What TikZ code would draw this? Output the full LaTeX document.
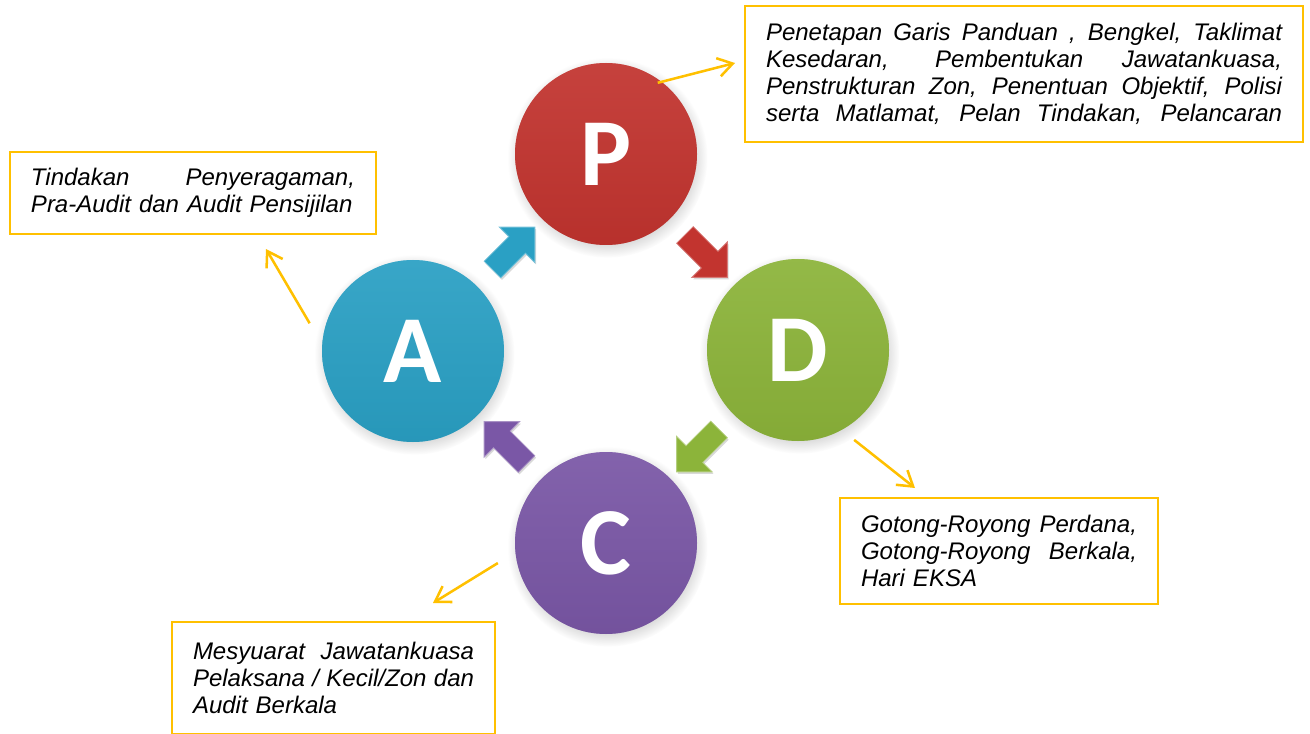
\documentclass[tikz,border=0pt]{standalone}
\usepackage{fontspec}
\setmainfont{Liberation Sans}
\newfontfamily\phasefont{Carlito}
\usetikzlibrary{calc,shapes.arrows,shadows,arrows.meta}

\definecolor{planRed}{RGB}{194,52,47}
\definecolor{doGreen}{RGB}{140,180,58}
\definecolor{checkPurple}{RGB}{122,87,166}
\definecolor{actBlue}{RGB}{42,160,196}
\definecolor{noteYellow}{RGB}{255,192,0}

% a line spread to a given width
\newcommand{\fullline}[2]{\leavevmode\hbox to #1{\spaceskip=0.3em plus 10em\relax #2}}

\tikzset{x=0.75pt, y=0.75pt,
    phaseCircle/.style={circle, fill=#1, minimum size=136.5pt, inner sep=0pt,
        text=white, font=\phasefont\bfseries\fontsize{72}{72}\selectfont,
        circular drop shadow={shadow xshift=1pt, shadow yshift=-2.5pt, opacity=0.3},
        path picture={
            \shade[top color=#1!80!white, bottom color=#1!85!black, opacity=0.35]
                (path picture bounding box.south west) rectangle (path picture bounding box.north east);
            \draw[white, opacity=0.6, line width=2.5pt, line cap=round]
                ([shift={(path picture bounding box.center)}]190:64pt) arc[start angle=190, end angle=250, radius=64pt];
            \draw[white, opacity=0.35, line width=1.5pt, line cap=round]
                ([shift={(path picture bounding box.center)}]55:65pt) arc[start angle=55, end angle=125, radius=65pt];
        }},
    cycleArrow/.style={single arrow, fill=#1, draw=#1!65!white, line width=0.6pt,
        minimum height=45pt, inner xsep=0pt, inner ysep=8.5pt, single arrow head extend=10pt,
        drop shadow={shadow xshift=1pt, shadow yshift=-1.5pt, opacity=0.3}},
    noteBox/.style={draw=noteYellow, line width=1.5pt, text width=#1, align=left,
        inner xsep=15.75pt, inner ysep=0pt,
        font=\itshape\fontsize{18}{20.25}\selectfont},
    leadLine/.style={noteYellow, line width=1.9pt, -{Straight Barb[length=11pt, width=14pt]}},
}

\begin{document}
\begin{tikzpicture}
\useasboundingbox (0,0) rectangle (1310,733);
\clip (0,0) rectangle (1310,733);
% the four phases
\node[phaseCircle=planRed] (P) at (606,579) {P};
\node[phaseCircle=doGreen] (D) at (798,383) {D};
\node[phaseCircle=checkPurple] (C) at (606,190) {C};
\node[phaseCircle=actBlue] (A) at (413,382) {A};
% arrows of the cycle
\node[cycleArrow=actBlue, rotate=45] (aToP) at ($(A)!0.5!(P)$) {};
\node[cycleArrow=planRed, rotate=-45] (pToD) at ($(P)!0.5!(D)$) {};
\node[cycleArrow=doGreen, rotate=-135] (dToC) at ($(D)!0.5!(C)$) {};
\node[cycleArrow=checkPurple, rotate=135] (cToA) at ($(C)!0.5!(A)$) {};
% notes
\node[noteBox=387pt, minimum height=102pt] (pNote) at (1024,659)
    {\fullline{387pt}{Penetapan Garis Panduan , Bengkel, Taklimat}\\
     \fullline{387pt}{Kesedaran, Pembentukan Jawatankuasa,}\\
     \fullline{387pt}{Penstrukturan Zon, Penentuan Objektif, Polisi}\\
     \fullline{387pt}{serta Matlamat, Pelan Tindakan, Pelancaran}};
\node[noteBox=243pt, minimum height=61.5pt] (aNote) at (193,540)
    {\fullline{243pt}{Tindakan Penyeragaman,}\\ Pra-Audit dan Audit Pensijilan};
\node[noteBox=207pt, minimum height=79.5pt] (dNote) at (999,182)
    {\fullline{207pt}{Gotong-Royong Perdana,}\\ \fullline{207pt}{Gotong-Royong Berkala,}\\ Hari EKSA};
\node[noteBox=210.75pt, minimum height=84pt] (cNote) at (333.5,55)
    {\fullline{210.75pt}{Mesyuarat Jawatankuasa}\\ \fullline{210.75pt}{Pelaksana / Kecil/Zon dan}\\ Audit Berkala};
% leads to the notes
\coordinate (pEnd) at (735,670);
\coordinate (aEnd) at (266,484);
\coordinate (dEnd) at (915,245);
\coordinate (cEnd) at (433,130);
\draw[leadLine] ($(P)+(54:88)$) -- (pEnd);
\draw[leadLine] ($(A)+(165:107)$) -- (aEnd);
\draw[leadLine] ($(D)+(-58:106)$) -- (dEnd);
\draw[leadLine] ($(C)+(190.5:110)$) -- (cEnd);
\end{tikzpicture}
\end{document}
